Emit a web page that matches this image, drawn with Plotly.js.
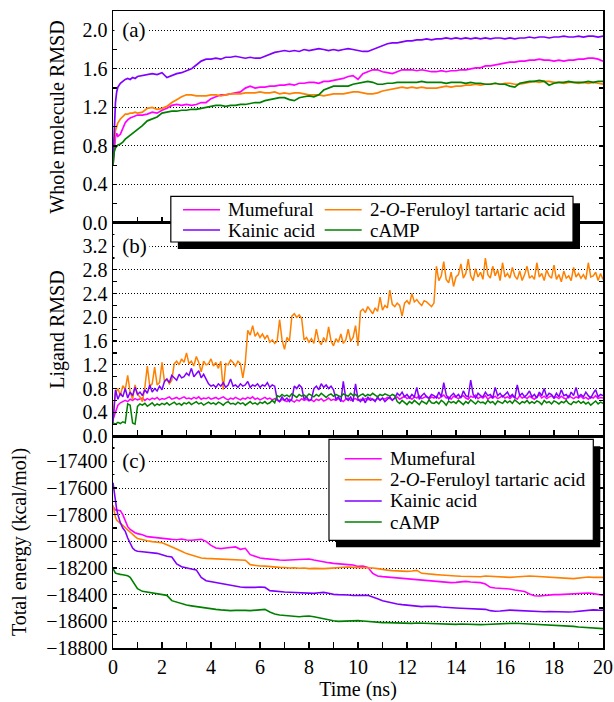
<!DOCTYPE html>
<html><head><meta charset="utf-8">
<script src="https://cdn.plot.ly/plotly-3.0.1.min.js"></script>
<style>html,body{margin:0;padding:0;background:#fff}#chart{width:614px;height:702px}</style>
</head><body><div id="chart"></div>
<script>
// ---------- DATA ----------
const seriesNames = ['Mumefural', '2-<i>O</i>-Feruloyl tartaric acid', 'Kainic acid', 'cAMP'];

// time (ns) for panels (a) and (c)
const timeA = [0,0.05,0.1,0.15,0.2,0.3,0.4,0.5,0.6,0.7,0.8,0.9,1,
1.2,1.4,1.6,1.8,2, 2.2,2.4,2.6,2.8,3, 3.2,3.4,3.6,3.8,4, 4.2,4.4,4.6,4.8,5,
5.2,5.4,5.6,5.8,6, 6.2,6.4,6.6,6.8,7, 7.2,7.4,7.6,7.8,8, 8.2,8.4,8.6,8.8,9,
9.2,9.4,9.6,9.8,10, 10.2,10.4,10.6,10.8,11, 11.2,11.4,11.6,11.8,12, 12.2,12.4,12.6,12.8,13,
13.2,13.4,13.6,13.8,14, 14.2,14.4,14.6,14.8,15, 15.2,15.4,15.6,15.8,16, 16.2,16.4,16.6,16.8,17,
17.2,17.4,17.6,17.8,18, 18.2,18.4,18.6,18.8,19, 19.2,19.4,19.6,19.8,20];

// (a) whole molecule RMSD
const rmsdMumefural = [0.60,0.80,0.89,0.93,0.90,0.92,0.99,1.04,1.07,1.09,1.10,1.11,1.12,
1.12,1.13,1.15,1.14,1.17, 1.19,1.22,1.23,1.22,1.23, 1.22,1.23,1.25,1.25,1.29, 1.31,1.33,1.33,1.34,1.35,
1.36,1.40,1.42,1.40,1.41, 1.41,1.42,1.42,1.43,1.43, 1.44,1.43,1.45,1.45,1.46, 1.46,1.45,1.47,1.47,1.48,
1.49,1.50,1.52,1.53,1.49, 1.55,1.57,1.59,1.59,1.57, 1.56,1.55,1.57,1.59,1.59, 1.59,1.58,1.59,1.58,1.57,
1.57,1.58,1.57,1.58,1.58, 1.59,1.59,1.60,1.61,1.61, 1.63,1.63,1.64,1.65,1.66, 1.67,1.67,1.68,1.68,1.69,
1.69,1.70,1.69,1.69,1.68, 1.69,1.68,1.69,1.69,1.70, 1.70,1.71,1.71,1.70,1.68];
const rmsdFeruloyl = [0.70,0.88,0.96,1.00,1.04,1.08,1.11,1.13,1.13,1.14,1.14,1.15,1.14,
1.15,1.19,1.20,1.18,1.19, 1.21,1.25,1.28,1.31,1.33, 1.33,1.32,1.32,1.32,1.33, 1.33,1.32,1.33,1.34,1.34,
1.34,1.35,1.35,1.35,1.36, 1.35,1.35,1.36,1.34,1.35, 1.34,1.35,1.35,1.34,1.33, 1.33,1.33,1.32,1.33,1.34,
1.34,1.34,1.35,1.36,1.36, 1.35,1.34,1.34,1.35,1.37, 1.38,1.39,1.40,1.41,1.40, 1.41,1.40,1.41,1.40,1.40,
1.40,1.41,1.42,1.41,1.42, 1.42,1.43,1.43,1.44,1.43, 1.44,1.44,1.45,1.44,1.45, 1.45,1.44,1.44,1.45,1.46,
1.47,1.46,1.47,1.47,1.46, 1.46,1.45,1.46,1.46,1.45, 1.46,1.45,1.46,1.45,1.44];
const rmsdKainic = [0.62,1.05,1.25,1.36,1.41,1.45,1.47,1.49,1.50,1.49,1.51,1.50,1.52,
1.53,1.54,1.55,1.54,1.56, 1.51,1.53,1.55,1.56,1.58, 1.60,1.64,1.68,1.70,1.70, 1.71,1.70,1.72,1.72,1.73,
1.72,1.71,1.72,1.71,1.71, 1.73,1.75,1.77,1.78,1.79, 1.78,1.79,1.78,1.80,1.79, 1.80,1.81,1.80,1.79,1.80,
1.79,1.80,1.81,1.80,1.79, 1.78,1.78,1.80,1.82,1.84, 1.86,1.87,1.87,1.88,1.89, 1.89,1.90,1.90,1.91,1.90,
1.91,1.91,1.92,1.91,1.92, 1.91,1.92,1.91,1.92,1.91, 1.92,1.91,1.92,1.92,1.91, 1.92,1.91,1.92,1.92,1.93,
1.92,1.93,1.93,1.92,1.93, 1.93,1.94,1.93,1.93,1.94, 1.93,1.94,1.94,1.93,1.94];
const rmsdCAMP = [0.60,0.74,0.78,0.80,0.81,0.82,0.84,0.87,0.89,0.91,0.93,0.95,0.97,
1.01,1.06,1.08,1.10,1.14, 1.15,1.16,1.16,1.17,1.17, 1.18,1.18,1.19,1.20,1.21, 1.22,1.22,1.21,1.22,1.22,
1.23,1.23,1.24,1.25,1.25, 1.27,1.28,1.29,1.30,1.30, 1.28,1.27,1.30,1.31,1.32, 1.31,1.33,1.38,1.40,1.42,
1.42,1.42,1.42,1.44,1.45, 1.46,1.47,1.46,1.44,1.44, 1.45,1.45,1.46,1.46,1.46, 1.46,1.46,1.47,1.46,1.46,
1.46,1.46,1.45,1.46,1.46, 1.46,1.45,1.46,1.45,1.45, 1.44,1.44,1.45,1.44,1.44, 1.42,1.41,1.45,1.46,1.47,
1.47,1.48,1.47,1.43,1.45, 1.46,1.46,1.47,1.46,1.46, 1.46,1.47,1.46,1.47,1.47];

// (c) total energy (kcal/mol)
const energyMumefural = [-17740,-17755,-17765,-17765,-17768,-17770,-17800,-17845,-17890,-17910,-17925,-17935,-17942,
-17950,-17965,-17970,-17975,-17978, -17982,-17985,-17988,-17983,-17990, -17992,-17988,-17985,-18000,-18030, -18050,-18055,-18050,-18048,-18042,
-18060,-18052,-18100,-18115,-18125, -18130,-18135,-18138,-18140,-18142, -18140,-18143,-18140,-18135,-18132, -18140,-18148,-18152,-18160,-18165,
-18170,-18172,-18175,-18178,-18188, -18185,-18195,-18240,-18260,-18265, -18268,-18272,-18275,-18278,-18280, -18285,-18288,-18292,-18295,-18300,
-18303,-18305,-18308,-18310,-18308, -18302,-18300,-18305,-18308,-18310, -18320,-18345,-18350,-18352,-18355, -18358,-18365,-18372,-18376,-18395,
-18408,-18410,-18405,-18402,-18400, -18400,-18398,-18395,-18392,-18390, -18390,-18388,-18392,-18398,-18405];
const energyFeruloyl = [-17730,-17790,-17820,-17840,-17850,-17865,-17880,-17900,-17915,-17930,-17950,-17965,-17978,
-17988,-17995,-18002,-18005,-18010, -18025,-18040,-18058,-18075,-18092, -18105,-18115,-18125,-18128,-18130, -18132,-18134,-18135,-18134,-18136,
-18138,-18142,-18175,-18182,-18185, -18186,-18190,-18192,-18195,-18196, -18200,-18198,-18202,-18200,-18205, -18203,-18206,-18205,-18203,-18200,
-18198,-18196,-18193,-18195,-18195, -18195,-18198,-18200,-18205,-18212, -18216,-18220,-18222,-18224,-18225, -18222,-18218,-18240,-18245,-18248,
-18250,-18252,-18256,-18258,-18260, -18262,-18264,-18265,-18268,-18266, -18260,-18262,-18268,-18270,-18272, -18270,-18268,-18265,-18262,-18260,
-18262,-18265,-18268,-18270,-18272, -18274,-18276,-18278,-18280,-18275, -18270,-18268,-18270,-18272,-18270];
const energyKainic = [-17560,-17640,-17700,-17760,-17800,-17860,-17900,-17925,-17975,-18010,-18050,-18068,-18075,
-18078,-18082,-18086,-18090,-18100, -18112,-18118,-18170,-18190,-18200, -18208,-18214,-18270,-18295,-18302, -18308,-18312,-18318,-18325,-18335,
-18342,-18345,-18347,-18345,-18342, -18345,-18370,-18375,-18378,-18380, -18382,-18384,-18385,-18388,-18392, -18390,-18386,-18383,-18390,-18398,
-18400,-18400,-18402,-18406,-18408, -18405,-18405,-18415,-18430,-18445, -18455,-18462,-18470,-18475,-18478, -18482,-18488,-18490,-18487,-18485,
-18488,-18492,-18496,-18500,-18500, -18502,-18504,-18503,-18505,-18505, -18510,-18520,-18524,-18522,-18518, -18516,-18518,-18520,-18522,-18525,
-18527,-18530,-18528,-18526,-18528, -18530,-18532,-18530,-18528,-18525, -18520,-18515,-18514,-18516,-18517];
const energyCAMP = [-18205,-18225,-18238,-18242,-18245,-18248,-18250,-18253,-18258,-18270,-18300,-18330,-18355,
-18375,-18382,-18388,-18392,-18400, -18405,-18445,-18458,-18468,-18478, -18484,-18490,-18496,-18500,-18505, -18510,-18514,-18518,-18520,-18518,
-18516,-18518,-18520,-18516,-18514, -18510,-18530,-18545,-18552,-18556, -18560,-18564,-18566,-18562,-18560, -18566,-18574,-18582,-18590,-18596,
-18600,-18598,-18596,-18594,-18595, -18598,-18602,-18605,-18608,-18610, -18610,-18612,-18614,-18616,-18617, -18615,-18613,-18614,-18616,-18617,
-18620,-18622,-18624,-18625,-18623, -18620,-18622,-18624,-18626,-18625, -18624,-18622,-18620,-18618,-18616, -18615,-18614,-18616,-18618,-18620,
-18618,-18620,-18622,-18625,-18628, -18630,-18632,-18635,-18638,-18642, -18645,-18648,-18650,-18652,-18655];
const energyTicks = [-18800,-18600,-18400,-18200,-18000,-17800,-17600,-17400];
const energyTickLabels = ['\u221218800','\u221218600','\u221218400','\u221218200','\u221218000','\u221217800','\u221217600','\u221217400'];

// time (ns) for panel (b)
const timeB = [0,
0.1,0.2,0.3,0.4,0.5,0.6,0.7,0.8,0.9,1,
1.1,1.2,1.3,1.4,1.5,1.6,1.7,1.8,1.9,2,
2.1,2.2,2.3,2.4,2.5,2.6,2.7,2.8,2.9,3,
3.1,3.2,3.3,3.4,3.5,3.6,3.7,3.8,3.9,4,
4.1,4.2,4.3,4.4,4.5,4.6,4.7,4.8,4.9,5,
5.1,5.2,5.3,5.4,5.5,5.6,5.7,5.8,5.9,6,
6.1,6.2,6.3,6.4,6.5,6.6,6.7,6.8,6.9,7,
7.1,7.2,7.3,7.4,7.5,7.6,7.7,7.8,7.9,8,
8.1,8.2,8.3,8.4,8.5,8.6,8.7,8.8,8.9,9,
9.1,9.2,9.3,9.4,9.5,9.6,9.7,9.8,9.9,10,
10.1,10.2,10.3,10.4,10.5,10.6,10.7,10.8,10.9,11,
11.1,11.2,11.3,11.4,11.5,11.6,11.7,11.8,11.9,12,
12.1,12.2,12.3,12.4,12.5,12.6,12.7,12.8,12.9,13,
13.1,13.2,13.3,13.4,13.5,13.6,13.7,13.8,13.9,14,
14.1,14.2,14.3,14.4,14.5,14.6,14.7,14.8,14.9,15,
15.1,15.2,15.3,15.4,15.5,15.6,15.7,15.8,15.9,16,
16.1,16.2,16.3,16.4,16.5,16.6,16.7,16.8,16.9,17,
17.1,17.2,17.3,17.4,17.5,17.6,17.7,17.8,17.9,18,
18.1,18.2,18.3,18.4,18.5,18.6,18.7,18.8,18.9,19,
19.1,19.2,19.3,19.4,19.5,19.6,19.7,19.8,19.9,20];

// (b) ligand RMSD
const ligMumefural = [0.28,
0.42,0.52,0.56,0.58,0.60,0.58,0.62,0.60,0.63,0.61,
0.62,0.64,0.60,0.63,0.61,0.64,0.62,0.65,0.61,0.63,
0.62,0.64,0.66,0.62,0.63,0.65,0.62,0.64,0.66,0.63,
0.64,0.62,0.65,0.63,0.66,0.62,0.64,0.63,0.65,0.62,
0.63,0.65,0.62,0.64,0.66,0.63,0.61,0.64,0.62,0.65,
0.63,0.61,0.64,0.62,0.65,0.63,0.66,0.62,0.64,0.61,
0.63,0.65,0.62,0.64,0.61,0.63,0.60,0.58,0.62,0.60,
0.58,0.62,0.60,0.57,0.61,0.59,0.63,0.60,0.62,0.59,
0.61,0.58,0.62,0.60,0.63,0.59,0.61,0.64,0.60,0.62,
0.60,0.63,0.61,0.58,0.62,0.64,0.60,0.61,0.63,0.60,
0.62,0.60,0.63,0.61,0.64,0.62,0.60,0.63,0.61,0.64,
0.62,0.65,0.63,0.61,0.64,0.66,0.62,0.64,0.67,0.63,
0.65,0.62,0.66,0.64,0.68,0.63,0.65,0.67,0.62,0.66,
0.64,0.67,0.63,0.66,0.69,0.64,0.66,0.62,0.67,0.65,
0.63,0.66,0.68,0.64,0.62,0.67,0.65,0.69,0.63,0.66,
0.64,0.68,0.62,0.66,0.64,0.67,0.63,0.65,0.68,0.64,
0.66,0.63,0.67,0.65,0.62,0.68,0.64,0.66,0.63,0.67,
0.65,0.62,0.66,0.70,0.64,0.67,0.63,0.65,0.68,0.64,
0.66,0.63,0.67,0.64,0.62,0.68,0.65,0.63,0.66,0.64,
0.67,0.63,0.65,0.62,0.66,0.64,0.68,0.63,0.65,0.64];
const ligFeruloyl = [0.33,
0.72,0.80,0.68,0.85,0.78,1.02,0.74,0.62,0.86,0.70,
0.66,0.58,0.82,1.18,0.84,0.88,1.16,0.86,0.90,1.24,
0.92,0.96,0.88,0.94,1.22,1.26,1.20,1.30,1.24,1.40,
1.22,1.26,1.18,1.34,1.24,1.08,1.26,1.20,1.22,1.30,
1.18,1.24,1.14,1.26,0.78,1.22,1.20,1.28,1.24,1.18,
1.26,1.22,0.98,1.24,1.78,1.70,1.86,1.68,1.74,1.66,
1.72,1.64,1.70,1.58,1.62,1.56,1.60,1.96,1.62,1.46,
1.66,1.60,2.02,2.06,2.00,2.04,1.98,1.62,1.66,1.58,
1.64,1.56,1.80,1.60,1.54,1.66,1.58,1.84,1.60,1.52,
1.64,1.58,1.72,1.56,1.62,1.80,1.60,1.66,1.86,1.52,
2.10,2.14,2.08,2.18,2.12,2.06,2.16,2.10,2.34,2.12,
2.20,2.16,2.46,2.22,2.18,2.24,2.20,2.02,2.24,2.28,
2.22,2.40,2.26,2.30,2.24,2.20,2.28,2.26,2.22,2.18,
2.24,2.86,2.62,2.70,2.94,2.64,2.58,2.76,2.52,2.68,
2.72,2.90,2.66,2.74,2.98,2.70,2.62,2.82,2.68,2.76,
2.64,3.00,2.72,2.66,2.86,2.70,2.80,2.62,2.92,2.68,
2.74,2.66,2.84,2.70,2.64,2.78,2.62,2.72,2.86,2.66,
2.70,2.64,2.92,2.68,2.74,2.62,2.80,2.70,2.66,2.88,
2.64,2.72,2.60,2.78,2.66,2.70,2.62,2.84,2.68,2.74,
2.66,2.72,2.64,2.92,2.68,2.70,2.76,2.62,2.74,2.64];
const ligKainic = [0.22,
0.78,0.62,0.72,0.66,0.80,0.64,0.74,0.68,0.82,0.70,
0.74,0.68,0.78,0.72,0.86,0.74,0.80,0.76,0.84,0.78,
0.92,0.96,0.90,1.02,0.98,0.94,1.04,0.98,1.00,1.06,
1.02,1.14,1.00,1.06,1.10,0.98,1.04,0.96,0.88,0.84,
0.86,0.82,0.88,0.84,0.90,0.82,0.86,0.96,0.84,0.86,
0.82,0.88,0.84,0.86,0.92,0.82,0.86,0.84,0.88,0.82,
0.86,0.84,0.90,0.82,0.86,0.84,0.62,0.58,0.66,0.60,
0.64,0.58,0.62,0.84,0.80,0.86,0.82,0.62,0.66,0.60,
0.62,0.80,0.84,0.78,0.88,0.82,0.86,0.80,0.84,0.78,
0.62,0.66,0.58,0.92,0.64,0.60,0.66,0.58,0.88,0.62,
0.58,0.64,0.56,0.66,0.60,0.62,0.58,0.66,0.60,0.64,
0.58,0.62,0.66,0.60,0.64,0.72,0.68,0.74,0.66,0.70,
0.64,0.70,0.66,0.82,0.62,0.68,0.72,0.66,0.64,0.70,
0.68,0.64,0.74,0.66,0.90,0.70,0.62,0.68,0.72,0.66,
0.70,0.64,0.76,0.68,0.66,0.94,0.70,0.64,0.72,0.68,
0.66,0.74,0.68,0.70,0.64,0.82,0.68,0.72,0.66,0.70,
0.74,0.66,0.70,0.64,0.86,0.68,0.72,0.66,0.70,0.76,
0.66,0.70,0.64,0.74,0.68,0.80,0.66,0.72,0.70,0.64,
0.72,0.66,0.78,0.68,0.70,0.64,0.74,0.68,0.82,0.66,
0.70,0.66,0.74,0.68,0.64,0.72,0.78,0.66,0.70,0.68];
const ligCAMP = [0.22,
0.20,0.23,0.21,0.24,0.22,0.54,0.52,0.22,0.20,0.50,
0.54,0.52,0.55,0.50,0.53,0.56,0.51,0.54,0.52,0.55,
0.53,0.56,0.52,0.55,0.57,0.53,0.55,0.52,0.56,0.54,
0.57,0.53,0.55,0.58,0.54,0.56,0.52,0.55,0.57,0.54,
0.56,0.53,0.57,0.55,0.52,0.56,0.58,0.54,0.55,0.53,
0.57,0.54,0.56,0.52,0.55,0.58,0.54,0.56,0.53,0.57,
0.55,0.58,0.54,0.56,0.60,0.56,0.68,0.66,0.70,0.67,
0.69,0.66,0.71,0.68,0.65,0.70,0.67,0.69,0.66,0.71,
0.68,0.66,0.70,0.67,0.72,0.68,0.65,0.69,0.71,0.67,
0.70,0.68,0.66,0.71,0.69,0.67,0.72,0.68,0.70,0.66,
0.69,0.71,0.67,0.70,0.68,0.72,0.69,0.66,0.70,0.68,
0.71,0.69,0.67,0.70,0.68,0.58,0.55,0.60,0.57,0.53,
0.58,0.55,0.60,0.56,0.53,0.59,0.57,0.54,0.61,0.56,
0.55,0.58,0.54,0.60,0.57,0.52,0.59,0.56,0.58,0.55,
0.60,0.56,0.53,0.58,0.55,0.61,0.57,0.54,0.59,0.56,
0.57,0.54,0.60,0.56,0.58,0.53,0.59,0.57,0.55,0.60,
0.56,0.59,0.55,0.61,0.57,0.54,0.58,0.56,0.60,0.55,
0.58,0.55,0.59,0.57,0.53,0.60,0.56,0.58,0.54,0.59,
0.57,0.54,0.58,0.56,0.60,0.55,0.53,0.58,0.56,0.59,
0.55,0.58,0.54,0.57,0.52,0.56,0.59,0.54,0.57,0.55];

// ---------- STYLE ----------
const colors = ['#ff00ff', '#ff8000', '#8000ff', '#008000'];
const FONT = '"Liberation Serif", "Times New Roman", serif';

const panelA = [rmsdMumefural, rmsdFeruloyl, rmsdKainic, rmsdCAMP];
const panelB = [ligMumefural, ligFeruloyl, ligKainic, ligCAMP];
const panelC = [energyMumefural, energyFeruloyl, energyKainic, energyCAMP];

const traces = [];
panelA.forEach((y, i) => traces.push({x: timeA, y: y, xaxis: 'x', yaxis: 'y', type: 'scatter', mode: 'lines',
  name: seriesNames[i], line: {color: colors[i], width: 1.7}, showlegend: false, hoverinfo: 'skip'}));
panelB.forEach((y, i) => traces.push({x: timeB, y: y, xaxis: 'x2', yaxis: 'y2', type: 'scatter', mode: 'lines',
  name: seriesNames[i], line: {color: colors[i], width: 1.5}, showlegend: false, hoverinfo: 'skip'}));
panelC.forEach((y, i) => traces.push({x: timeA, y: y, xaxis: 'x3', yaxis: 'y3', type: 'scatter', mode: 'lines',
  name: seriesNames[i], line: {color: colors[i], width: 1.6}, showlegend: false, hoverinfo: 'skip'}));

function xax(anchor, labels) {
  return {anchor: anchor, range: [0, 20], dtick: 2, tick0: 0, ticks: 'inside', ticklen: 6, tickwidth: 1.2,
    tickcolor: '#000', minor: {dtick: 1, ticks: 'inside', ticklen: 6, tickwidth: 1.2, tickcolor: '#000'},
    showline: true, linecolor: '#000', linewidth: 1.5, mirror: true, showgrid: false, zeroline: false,
    showticklabels: labels, tickfont: {family: FONT, size: 20, color: '#000'}};
}
function yax(anchor, domain, range, dtick, minor, fmt, title, standoff) {
  return {anchor: anchor, domain: domain, range: range, dtick: dtick, tick0: 0, tickformat: fmt,
    ticks: 'inside', ticklen: 4, tickwidth: 1.2, tickcolor: '#000',
    minor: {dtick: minor, ticks: 'inside', ticklen: 4, tickwidth: 1.2, tickcolor: '#000'},
    showline: true, linecolor: '#000', linewidth: 1.5, mirror: 'ticks',
    showgrid: true, gridcolor: '#000', gridwidth: 1, griddash: '1px,2px', zeroline: false,
    tickfont: {family: FONT, size: 20, color: '#000'},
    title: {text: title, font: {family: FONT, size: 20, color: '#000'}, standoff: standoff}};
}

const annotations = [
  {xref: 'x', yref: 'y', x: 0.05, y: 2.0, text: '\u00a0(a)'},
  {xref: 'x2', yref: 'y2', x: 0.05, y: 3.2, text: '\u00a0(b)'},
  {xref: 'x3', yref: 'y3', x: 0.05, y: -17400, text: '\u00a0(c)'}
].map(a => Object.assign(a, {xanchor: 'left', yanchor: 'middle', showarrow: false, bgcolor: '#fff',
  borderpad: 2, font: {family: FONT, size: 21, color: '#000'}}));

// manual legends (paper coordinates)
const shapes = [];
function legendBox(x0, x1, y0, y1) {
  const dx = 7 / 490, dy = 7 / 637;
  shapes.push({type: 'rect', xref: 'paper', yref: 'paper', x0: x0 + dx, x1: x1 + dx, y0: y0 - dy, y1: y1 - dy,
    fillcolor: '#000', line: {width: 0}, layer: 'above'});
  shapes.push({type: 'rect', xref: 'paper', yref: 'paper', x0: x0, x1: x1, y0: y0, y1: y1,
    fillcolor: '#fff', line: {color: '#000', width: 1.2}, layer: 'above'});
}
function legendItem(xLine, yc, i) {
  shapes.push({type: 'line', xref: 'paper', yref: 'paper', x0: xLine, x1: xLine + 37 / 490, y0: yc, y1: yc,
    line: {color: colors[i], width: 1.6}, layer: 'above'});
  annotations.push({xref: 'paper', yref: 'paper', x: xLine + 43 / 490, y: yc, text: seriesNames[i],
    xanchor: 'left', yanchor: 'middle', showarrow: false, font: {family: FONT, size: 19, color: '#000'}});
}
// legend (a): 2 columns
legendBox(0.1180, 0.9388, 0.6374, 0.7091);
const colX = [0.1429, 0.4320], rowY = [0.6881, 0.6562];
seriesNames.forEach((n, i) => legendItem(colX[i % 2], rowY[Math.floor(i / 2)], i));
// legend (c): 1 column
legendBox(0.4408, 0.9802, 0.1691, 0.3276);
const rowC = [0.2972, 0.2642, 0.2308, 0.1978];
seriesNames.forEach((n, i) => legendItem(0.4729, rowC[i], i));

const yaxis3 = yax('x3', [0, 0.3328], [-18800, -17210], 200, 100, '', 'Total energy (kcal/mol)', 14);
yaxis3.tickmode = 'array'; yaxis3.tickvals = energyTicks; yaxis3.ticktext = energyTickLabels;
yaxis3.minor = {tickmode: 'linear', tick0: -18800, dtick: 100, ticks: 'inside', ticklen: 4, tickwidth: 1.2, tickcolor: '#000'};

const layout = {
  width: 614, height: 702, margin: {l: 113, r: 11, t: 11, b: 54},
  paper_bgcolor: '#fff', plot_bgcolor: '#fff', showlegend: false,
  font: {family: FONT, color: '#000'},
  xaxis: xax('y', false),
  xaxis2: Object.assign(xax('y2', false), {matches: 'x'}),
  xaxis3: Object.assign(xax('y3', true), {matches: 'x', title: {text: 'Time (ns)', font: {family: FONT, size: 20, color: '#000'}, standoff: 2}}),
  yaxis: yax('x', [0.6672, 1], [0, 2.2], 0.4, 0.2, '.1f', 'Whole molecule RMSD', 12),
  yaxis2: yax('x2', [0.3328, 0.6672], [0, 3.59], 0.4, 0.2, '.1f', 'Ligand RMSD', 12),
  yaxis3: yaxis3,
  annotations: annotations, shapes: shapes
};

Plotly.newPlot('chart', traces, layout, {staticPlot: true, displayModeBar: false});
</script>
</body></html>
